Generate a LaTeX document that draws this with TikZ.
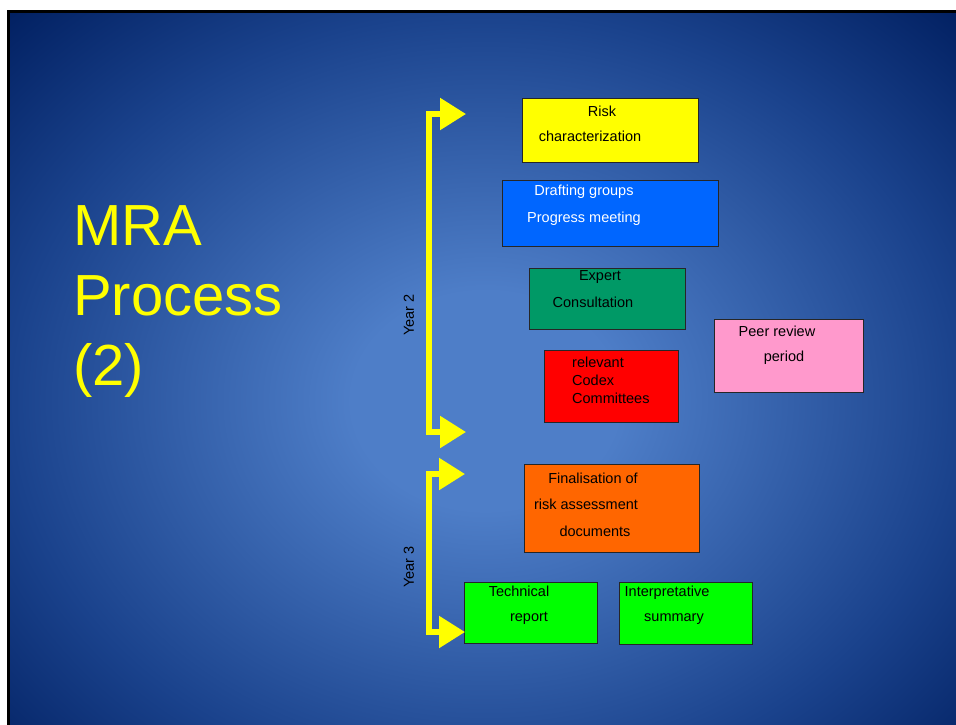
\documentclass[tikz,border=0pt]{standalone}
\usepackage{fontspec}
\setmainfont{Liberation Sans}
\usetikzlibrary{arrows.meta,positioning}

\definecolor{bgcentre}{RGB}{78,126,200}
\definecolor{bgedge}{RGB}{26,66,140}
\definecolor{bgcorner}{RGB}{0,30,95}
\definecolor{markyellow}{RGB}{255,255,0}
\definecolor{draftblue}{RGB}{0,102,255}
\definecolor{expertgreen}{RGB}{0,153,102}
\definecolor{codexred}{RGB}{255,0,0}
\definecolor{peerpink}{RGB}{255,153,204}
\definecolor{finalorange}{RGB}{255,102,0}
\definecolor{reportgreen}{RGB}{0,255,0}

\pgfdeclareradialshading{slideglow}{\pgfpoint{0bp}{0bp}}{color(0bp)=(bgcentre); color(7bp)=(bgcentre); color(25bp)=(bgedge); color(36bp)=(bgcorner); color(50bp)=(bgcorner)}

\begin{document}
\begin{tikzpicture}[x=1pt, y=-1pt,
  box/.style = {draw=black!85, line width=0.8pt, inner sep=0pt},
  lbl/.style = {inner sep=0pt, align=center, font=\fontsize{14.5}{25}\selectfont},
  yarrow/.style = {draw=markyellow, line width=5.5pt, line join=miter,
    {Triangle[length=26pt,width=31pt]}-{Triangle[length=26pt,width=31pt]}},
  year/.style = {rotate=90, inner sep=0pt, font=\fontsize{14.5}{17}\selectfont},
  title/.style = {anchor=west, inner sep=0pt, align=left, text=markyellow,
    font=\fontsize{58}{70}\selectfont}]
\useasboundingbox (0,0) rectangle (956,724);
\clip (0,0) rectangle (956,724);
% slide background
\shade[shading=slideglow] (8.5,11.5) rectangle (962,790);
\draw[line width=3pt] (8.5,790) -- (8.5,11.5) -- (962,11.5);

\node[title] (head) at (73,302) {MRA\\Process\\(2)};

% year 2
\node[box, fill=markyellow, minimum width=176pt, minimum height=64pt] (risk) at (610,130) {};
\node[lbl] (risktxt) at (590,123.5) {\hspace*{24pt}Risk\\characterization};
\node[box, fill=draftblue, minimum width=216pt, minimum height=66pt] (draft) at (610,213) {};
\node[lbl, text=white, font=\fontsize{14.5}{27}\selectfont] (drafttxt) at (584,205.5) {Drafting groups\\Progress meeting};
\node[box, fill=expertgreen, minimum width=156pt, minimum height=61pt] (expert) at (607,298.5) {};
\node[lbl, font=\fontsize{14.5}{27}\selectfont] (experttxt) at (593,289.5) {\hspace*{14pt}Expert\\Consultation};
\node[box, fill=codexred, minimum width=134pt, minimum height=72pt] (codex) at (611,386) {};
\node[lbl, anchor=west, align=left, font=\fontsize{14.5}{18}\selectfont] (codextxt) at (572,380) {relevant\\Codex\\Committees};
\node[box, fill=peerpink, minimum width=149pt, minimum height=73pt] (peer) at (788.5,355.5) {};
\node[lbl] (peertxt) at (777,345.5) {Peer review\\\hspace*{14pt}period};

% year 3
\node[box, fill=finalorange, minimum width=175pt, minimum height=88pt] (final) at (611.5,508) {};
\node[lbl, font=\fontsize{14.5}{26.5}\selectfont] (finaltxt) at (586,504.5) {\hspace*{14pt}Finalisation of\\risk assessment\\\hspace*{18pt}documents};
\node[box, fill=reportgreen, minimum width=133pt, minimum height=61pt] (tech) at (530.5,612.5) {};
\node[lbl] (techtxt) at (519,605.5) {Technical\\\hspace*{20pt}report};
\node[box, fill=reportgreen, minimum width=133pt, minimum height=62pt] (interp) at (685.5,613) {};
\node[lbl] (interptxt) at (667,605.5) {Interpretative\\\hspace*{14pt}summary};

% time brackets
\coordinate (y2top) at (466,114);
\coordinate (y2bot) at (466,432);
\coordinate (y3top) at (465,474);
\coordinate (y3bot) at (465,632);
\draw[yarrow] (y2top) -- ++(-37,0) |- (y2bot);
\draw[yarrow] (y3top) -- ++(-36,0) |- (y3bot);
\node[year] (yr2) at (409,315) {Year 2};
\node[year] (yr3) at (409,567) {Year 3};
\end{tikzpicture}
\end{document}
